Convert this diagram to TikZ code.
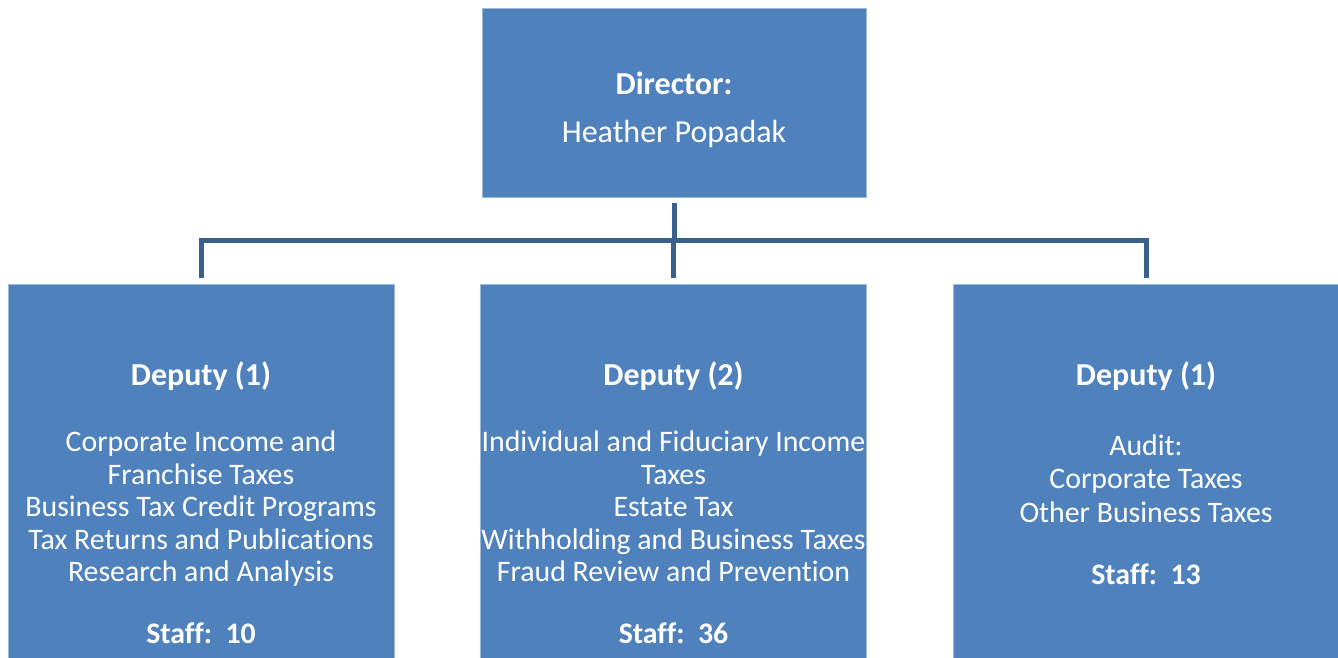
\documentclass[tikz,border=0pt]{standalone}
\usepackage{fontspec}
\setmainfont{Carlito}[Ligatures=CommonOff]
\usetikzlibrary{positioning}
\definecolor{office}{RGB}{79,129,189}
\definecolor{navy}{RGB}{60,96,140}
\newcommand{\headline}[1]{{\fontsize{16}{16.25}\selectfont\bfseries #1}}
\tikzset{
  unit/.style={fill=office,draw=office!55!white,line width=0.4pt,inner sep=0pt,
    minimum width=#1},
  unit/.default=193pt,
  txt/.style={text=white,align=center,inner sep=0pt,anchor=north,
    font=\fontsize{14.9}{16.25}\selectfont},
  link/.style={draw=navy,line width=2.5pt},
}
\begin{document}
\begin{tikzpicture}[x=0.5pt,y=-0.5pt]
  \useasboundingbox (0,0) rectangle (1338,658);
  \clip (0,0) rectangle (1338,658);
  % boxes
  \node[unit=192pt,minimum height=94.5pt] (dir) at (674,102.5) {};
  \node[unit,minimum height=221pt] (dep1) at (201,505) {};
  \node[unit,minimum height=221pt] (dep2) at (673.5,505) {};
  \node[unit,minimum height=221pt] (dep3) at (1146,505) {};
  % texts
  \node[txt,font=\fontsize{16}{16.25}\selectfont] (dirtxt) at (674,72)
    {\textbf{Director:}\\[7.75pt]Heather Popadak};
  \node[txt] (dep1txt) at (201,361) {\headline{Deputy (1)}\\[17pt]
    Corporate Income and\\Franchise Taxes\\Business Tax Credit Programs\\
    Tax Returns and Publications\\Research and Analysis\\[14.5pt]\textbf{Staff:~~10}};
  \node[txt] (dep2txt) at (673.5,361) {\headline{Deputy (2)}\\[17pt]
    Individual and Fiduciary Income\\Taxes\\Estate Tax\\
    Withholding and Business Taxes\\Fraud Review and Prevention\\[14.5pt]\textbf{Staff:~~36}};
  \node[txt] (dep3txt) at (1146,361) {\headline{Deputy (1)}\\[18.75pt]
    Audit:\\[0.5pt]Corporate Taxes\\[0.5pt]Other Business Taxes\\[14.75pt]\textbf{Staff:~~13}};
  % connectors
  \coordinate (bus) at (674,240);
  \draw[link,shorten <=3pt] (dir.south) -- (bus);
  \draw[link,line cap=rect] (dep1.north |- bus) -- (dep3.north |- bus);
  \foreach \d in {dep1,dep2,dep3}
    \draw[link,shorten >=3pt] (\d.north |- bus) -- (\d.north);
\end{tikzpicture}
\end{document}
